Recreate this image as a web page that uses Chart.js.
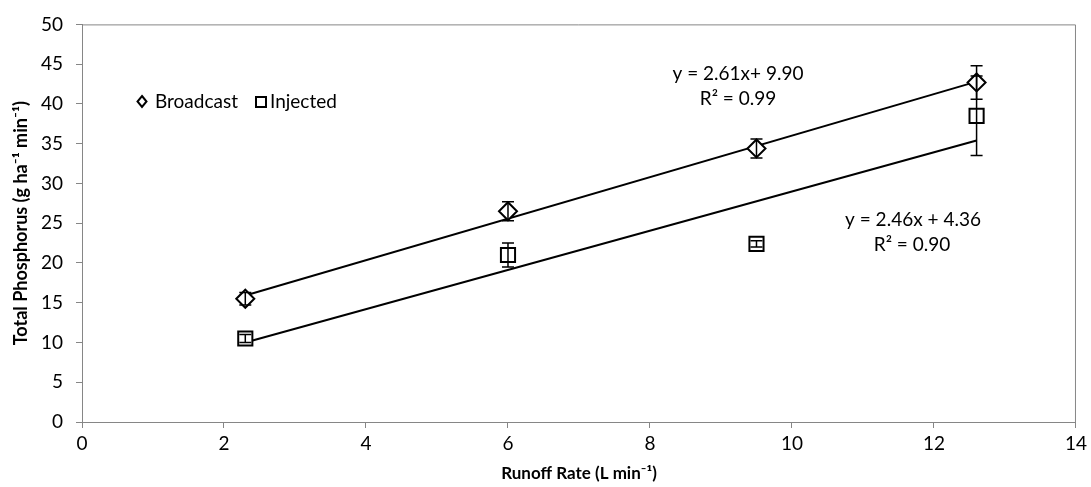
<!DOCTYPE html>
<html>
<head>
<meta charset="utf-8">
<script src="https://cdn.jsdelivr.net/npm/chart.js@4.4.0/dist/chart.umd.min.js"></script>
<style>
  body { margin: 0; background: #fff; }
  #wrap { width: 1091px; height: 487px; position: relative; }
</style>
</head>
<body>
<div id="wrap"><canvas id="tp_chart"></canvas></div>
<script>
const runoff_rates = [2.3, 6.0, 9.5, 12.6];
const broadcast_tp = [15.5, 26.5, 34.4, 42.7];
const broadcast_err = [0.8, 1.2, 1.2, 2.1];
const injected_tp = [10.5, 21.0, 22.4, 38.5];
const injected_err = [0.5, 1.5, 0.4, 5.0];

// trend line ends
const trend_x = [2.3, 12.6];
const broadcast_trend = [15.9, 42.8];
const injected_trend = [10.0, 35.4];

const broadcast_label = 'y = 2.61x+ 9.90';
const broadcast_r2 = 'R² = 0.99';
const injected_label = 'y = 2.46x + 4.36';
const injected_r2 = 'R² = 0.90';

const x_ticks = [0, 2, 4, 6, 8, 10, 12, 14];
const y_ticks = [0, 5, 10, 15, 20, 25, 30, 35, 40, 45, 50];

const x_title = 'Runoff Rate (L min⁻¹)';
const y_title = 'Total Phosphorus (g ha⁻¹ min⁻¹)';

const font_family = 'Lato, "Open Sans", sans-serif';
const axis_grey = '#868686';

function to_points(xs, ys) {
    return xs.map((x, i) => ({ x: x, y: ys[i] }));
}

const error_bars = {
    id: 'error_bars',
    afterDatasetsDraw(chart) {
        const ctx = chart.ctx;
        const xs = chart.scales.x, ys = chart.scales.y;
        chart.data.datasets.forEach(ds => {
            if (!ds.errors) return;
            ctx.save();
            ctx.strokeStyle = '#000';
            ctx.lineWidth = 1.5;
            ds.data.forEach((p, i) => {
                const e = ds.errors[i];
                const px = xs.getPixelForValue(p.x);
                const top = ys.getPixelForValue(p.y + e);
                const bot = ys.getPixelForValue(p.y - e);
                ctx.beginPath();
                ctx.moveTo(px, top); ctx.lineTo(px, bot);
                ctx.moveTo(px - 6, top); ctx.lineTo(px + 6, top);
                ctx.moveTo(px - 6, bot); ctx.lineTo(px + 6, bot);
                ctx.stroke();
            });
            ctx.restore();
        });
    }
};

const extras = {
    id: 'extras',
    afterDraw(chart) {
        const ctx = chart.ctx;
        const a = chart.chartArea;
        ctx.save();
        // box round the plot
        ctx.strokeStyle = axis_grey;
        ctx.lineWidth = 1;
        ctx.beginPath();
        ctx.moveTo(a.left, a.top + 0.5);
        ctx.lineTo(a.right - 0.5, a.top + 0.5);
        ctx.lineTo(a.right - 0.5, a.bottom);
        ctx.stroke();

        ctx.fillStyle = '#000';
        // axis titles
        ctx.textAlign = 'center';
        ctx.textBaseline = 'middle';
        ctx.font = 'bold 17px ' + font_family;
        ctx.fillText(x_title, (a.left + a.right) / 2, 474);
        ctx.save();
        ctx.font = 'bold 18px ' + font_family;
        ctx.translate(21, (a.top + a.bottom) / 2);
        ctx.rotate(-Math.PI / 2);
        ctx.fillText(y_title, 0, 0);
        ctx.restore();

        // equations
        ctx.font = '19px ' + font_family;
        ctx.fillText(broadcast_label, 738, 74);
        ctx.fillText(broadcast_r2, 738, 99);
        ctx.fillText(injected_label, 913, 220);
        ctx.fillText(injected_r2, 912, 245);

        // legend
        ctx.textAlign = 'left';
        ctx.strokeStyle = '#000';
        ctx.lineWidth = 2;
        ctx.beginPath();
        ctx.moveTo(142, 96); ctx.lineTo(146.5, 101.5); ctx.lineTo(142, 107); ctx.lineTo(137.5, 101.5);
        ctx.closePath();
        ctx.stroke();
        ctx.fillText('Broadcast', 155, 102);
        ctx.strokeRect(256, 97, 10, 10);
        ctx.fillText('Injected', 270, 102);
        ctx.restore();
    }
};

new Chart(document.getElementById('tp_chart'), {
    type: 'scatter',
    data: {
        datasets: [
            {
                label: 'Broadcast',
                data: to_points(runoff_rates, broadcast_tp),
                errors: broadcast_err,
                pointStyle: 'rectRot',
                pointRadius: 9,
                pointBorderWidth: 2,
                borderColor: '#000',
                backgroundColor: '#fff',
                order: 1
            },
            {
                label: 'Injected',
                data: to_points(runoff_rates, injected_tp),
                errors: injected_err,
                pointStyle: 'rect',
                pointRadius: 10,
                pointBorderWidth: 2,
                borderColor: '#000',
                backgroundColor: '#fff',
                order: 1
            },
            {
                label: 'Broadcast trend',
                data: to_points(trend_x, broadcast_trend),
                showLine: true,
                pointRadius: 0,
                borderColor: '#000',
                borderWidth: 2,
                order: 2
            },
            {
                label: 'Injected trend',
                data: to_points(trend_x, injected_trend),
                showLine: true,
                pointRadius: 0,
                borderColor: '#000',
                borderWidth: 2,
                order: 2
            }
        ]
    },
    options: {
        responsive: true,
        maintainAspectRatio: false,
        animation: false,
        layout: { padding: { top: 19, right: 15, left: 0, bottom: 0 } },
        plugins: {
            legend: { display: false },
            tooltip: { enabled: false }
        },
        scales: {
            x: {
                type: 'linear',
                min: 0, max: 14,
                afterBuildTicks: s => { s.ticks = x_ticks.map(v => ({ value: v })); },
                afterFit: s => { s.height = 65; },
                grid: { drawOnChartArea: false, drawTicks: true, tickLength: 6, color: axis_grey },
                border: { color: axis_grey },
                ticks: { color: '#000', font: { family: font_family, size: 19 }, padding: 4, maxRotation: 0 }
            },
            y: {
                type: 'linear',
                min: 0, max: 50,
                afterBuildTicks: s => { s.ticks = y_ticks.map(v => ({ value: v })); },
                afterFit: s => { s.width = 82; },
                grid: { drawOnChartArea: false, drawTicks: true, tickLength: 6, color: axis_grey },
                border: { color: axis_grey },
                ticks: { color: '#000', font: { family: font_family, size: 19 }, padding: 13 }
            }
        }
    },
    plugins: [error_bars, extras]
});
</script>
</body>
</html>
